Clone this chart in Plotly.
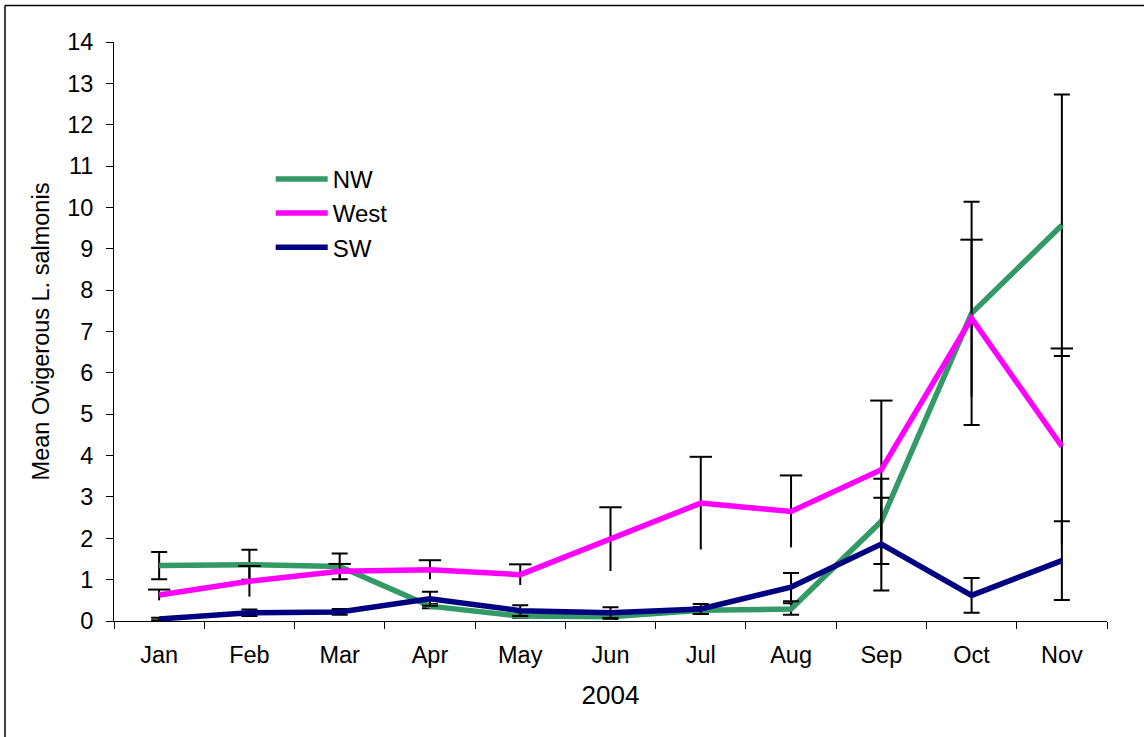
import plotly.graph_objects as go

months = ["Jan", "Feb", "Mar", "Apr", "May", "Jun", "Jul", "Aug", "Sep", "Oct", "Nov"]

nw_mean = [1.34, 1.36, 1.32, 0.36, 0.12, 0.10, 0.26, 0.29, 2.41, 7.44, 9.57]
nw_err = [0.33, 0.36, 0.31, 0.05, 0.04, 0.05, 0.08, 0.14, 1.03, 2.70, 3.16]

west_mean = [0.63, 0.96, 1.20, 1.24, 1.12, 1.98, 2.85, 2.65, 3.66, 7.32, 4.22]
west_err = [0.13, 0.37, 0.18, 0.23, 0.25, 0.77, 1.12, 0.87, 1.67, 1.90, 2.37]

sw_mean = [0.05, 0.20, 0.22, 0.54, 0.25, 0.20, 0.29, 0.82, 1.86, 0.62, 1.46]
sw_err = [0.03, 0.08, 0.07, 0.17, 0.13, 0.13, 0.12, 0.34, 1.12, 0.42, 0.95]

FONT = "Liberation Sans, Arial, sans-serif"
W, H = 1144, 737
# plot area in page pixels: x 114..1107, y 41.5..621.5
L, T = 114, 41.5
R, B = W - 1107, H - 621.5
pw, ph = W - L - R, H - T - B

fig = go.Figure()

err_style = dict(type="data", color="black", thickness=2, width=8)

fig.add_trace(
    go.Scatter(
        x=months, y=nw_mean, mode="lines", name="NW", legendgroup="NW",
        line=dict(color="#339966", width=5.5),
        error_y=dict(array=nw_err, **err_style),
    )
)
# West bars in the original only have a cap on the upper end
fig.add_trace(
    go.Scatter(
        x=months, y=west_mean, mode="lines", name="West", legendgroup="West",
        line=dict(color="#FF00FF", width=5.5),
        error_y=dict(array=west_err, type="data", color="black", thickness=2, width=0),
    )
)
fig.add_trace(
    go.Scatter(
        x=months, y=[m + e for m, e in zip(west_mean, west_err)],
        mode="markers", showlegend=False, hoverinfo="skip", legendgroup="West",
        marker=dict(symbol="line-ew", size=16, line=dict(color="black", width=2)),
    )
)
fig.add_trace(
    go.Scatter(
        x=months, y=sw_mean, mode="lines", name="SW", legendgroup="SW",
        line=dict(color="#000080", width=5.5),
        error_y=dict(array=sw_err, **err_style),
    )
)

frame = dict(type="line", xref="paper", yref="paper", line=dict(color="black", width=1.5))
fx = (5 - L) / pw        # left frame line at x = 5
fy = 1 + (T - 5) / ph    # top frame line at y = 5

fig.update_layout(
    width=W, height=H,
    margin=dict(l=L, r=R, t=T, b=B, pad=0),
    paper_bgcolor="white", plot_bgcolor="white",
    font=dict(family=FONT, size=23.5, color="black"),
    showlegend=True,
    legend=dict(
        x=156.7 / pw, y=1 - 115 / ph, xanchor="left", yanchor="top",
        bgcolor="rgba(0,0,0,0)", font=dict(size=24), itemwidth=52,
        tracegroupgap=11, traceorder="normal",
    ),
    xaxis=dict(
        type="category", range=[-0.5, 10.5], tickson="boundaries",
        ticks="outside", ticklen=7, tickcolor="black",
        showline=True, linecolor="black", linewidth=1, showgrid=False,
        title=dict(text="2004", font=dict(size=26), standoff=18),
        ticklabelstandoff=13,
    ),
    yaxis=dict(
        range=[0, 14], dtick=1, ticks="outside", ticklen=7, tickcolor="black",
        showline=True, linecolor="black", linewidth=1, showgrid=False, zeroline=False,
        title=dict(text="Mean Ovigerous L. salmonis", font=dict(size=23.5), standoff=10),
        ticklabelstandoff=8,
    ),
    shapes=[
        dict(frame, x0=fx, x1=2, y0=fy, y1=fy),
        dict(frame, x0=fx, x1=fx, y0=fy, y1=-1),
    ],
)

# drop the default 8px page margin so the figure sits at the window corner
fig.write_html(
    "out.html",
    config={"displayModeBar": False},
    post_script="document.body.style.margin='0';",
)
